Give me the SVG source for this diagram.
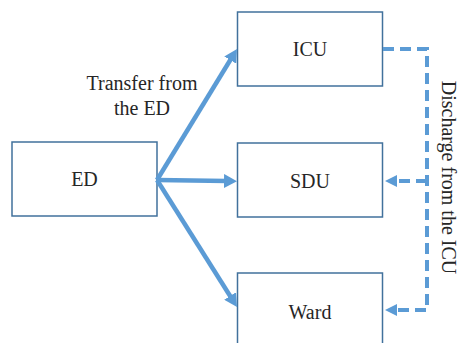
<svg xmlns="http://www.w3.org/2000/svg" width="460" height="343" viewBox="0 0 460 343">
<defs>
<style>
.box{fill:#fff;stroke:#41719c;stroke-width:1.5}
.lbl{font-family:"Liberation Serif","Times New Roman",serif;font-size:20px;fill:#262626;text-anchor:middle}
.solid{stroke:#5b9bd5;stroke-width:4.5;fill:none;marker-end:url(#ah)}
.dash{stroke:#5b9bd5;stroke-width:4;fill:none;stroke-dasharray:11 6}
</style>
<marker id="ah" markerUnits="userSpaceOnUse" markerWidth="16" markerHeight="14" refX="3" refY="7" orient="auto">
<path d="M0,0 L13,7 L0,14 z" fill="#5b9bd5"/>
</marker>
<marker id="dh" markerUnits="userSpaceOnUse" markerWidth="14" markerHeight="12" refX="2" refY="6" orient="auto">
<path d="M0,0 L12,6 L0,12 z" fill="#5b9bd5"/>
</marker>
</defs>
<g id="ED"><rect class="box" x="12" y="142" width="145" height="74"/><text class="lbl" x="84.5" y="186">ED</text></g>
<g id="ICU"><rect class="box" x="237.5" y="12" width="145" height="74"/><text class="lbl" x="310" y="56">ICU</text></g>
<g id="SDU"><rect class="box" x="237.5" y="143" width="145" height="74"/><text class="lbl" x="310" y="188">SDU</text></g>
<g id="Ward"><rect class="box" x="237.5" y="273" width="145" height="80"/><text class="lbl" x="310" y="319">Ward</text></g>
<g id="connectors">
<line class="solid" x1="157" y1="180" x2="231.8" y2="57.5"/>
<line class="solid" x1="157" y1="180" x2="227" y2="181"/>
<line class="solid" x1="157" y1="180" x2="231.7" y2="298.5"/>
<path class="dash" d="M383,49 H427 V310 H395" marker-end="url(#dh)"/>
<path class="dash" d="M427,181 H395" marker-end="url(#dh)"/>
</g>
<g id="labels">
<text class="lbl" x="142" y="90">Transfer from</text>
<text class="lbl" x="142" y="115">the ED</text>
<text class="lbl" transform="translate(442,177.5) rotate(90)">Discharge from the ICU</text>
</g>
</svg>
